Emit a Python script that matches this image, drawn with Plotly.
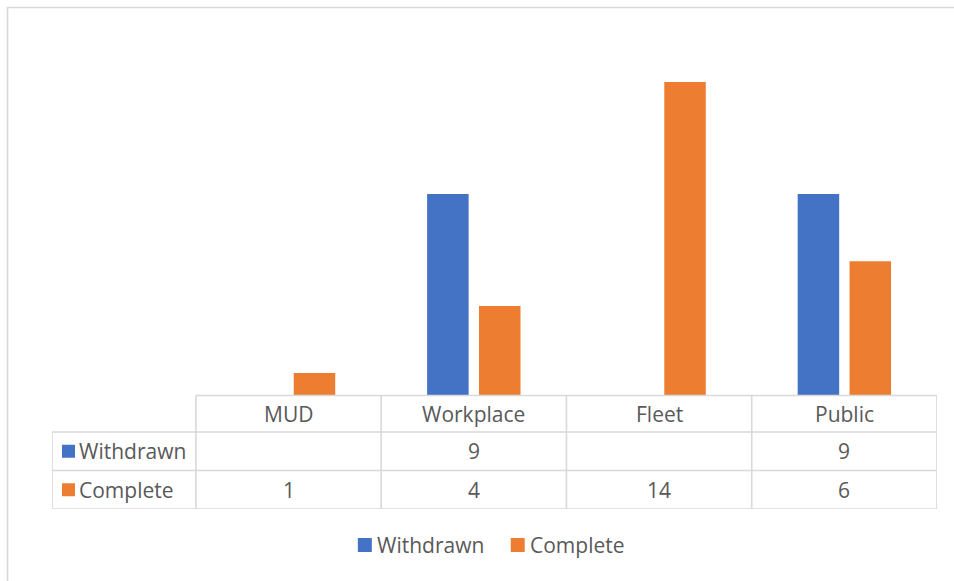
import plotly.graph_objects as go

# Chart data
categories = ["MUD", "Workplace", "Fleet", "Public"]
series_names = ["Withdrawn", "Complete"]
withdrawn = [None, 9, None, 9]
complete = [1, 4, 14, 6]
series_values = [withdrawn, complete]
series_colors = ["#4472C4", "#ED7D31"]

# Geometry (category units on x, value units on y)
W, H = 954, 581
PX_PER_CAT = 185.4          # pixels per category on x
PX_PER_VAL = 22.39          # pixels per unit on y
LABEL_COL = 144 / PX_PER_CAT  # width of the row-label column in category units
HEADER_H = 36.5 / PX_PER_VAL
ROW_H = 38.5 / PX_PER_VAL
x_left = -0.5 - LABEL_COL
x_right = len(categories) - 0.5
y_bottom = -(HEADER_H + 2 * ROW_H)
margin_t, margin_b = 30, 72
plot_h = H - margin_t - margin_b
y_top = y_bottom + plot_h / PX_PER_VAL

GRID = "#D9D9D9"
TEXT = "#595959"
FONT = "Open Sans"
FS = 21

fig = go.Figure()
x_idx = list(range(len(categories)))
for name, vals, col in zip(series_names, series_values, series_colors):
    fig.add_trace(go.Bar(
        x=x_idx, y=vals, name=name,
        marker=dict(color=col, line=dict(width=0)),
        hoverinfo="skip", showlegend=False,
    ))

shapes = []
annotations = []
line = dict(color=GRID, width=1.6)

# Data table grid
shapes.append(dict(type="line", xref="x", yref="y", x0=-0.5, x1=x_right, y0=0, y1=0, line=line))
for k in range(1, 4):
    yy = -HEADER_H - (k - 1) * ROW_H
    shapes.append(dict(type="line", xref="x", yref="y", x0=x_left, x1=x_right, y0=yy, y1=yy, line=line))
for i in range(len(categories) + 1):
    xx = -0.5 + i
    shapes.append(dict(type="line", xref="x", yref="y", x0=xx, x1=xx, y0=0, y1=y_bottom, line=line))
shapes.append(dict(type="line", xref="x", yref="y", x0=x_left, x1=x_left, y0=-HEADER_H, y1=y_bottom, line=line))

# Category headers
for i, c in enumerate(categories):
    annotations.append(dict(x=i, y=-HEADER_H / 2, xref="x", yref="y", text=c,
                            showarrow=False, font=dict(family=FONT, size=FS, color=TEXT)))

# Rows: legend key, series name and values
key_w = 13 / PX_PER_CAT
key_h = 13 / PX_PER_VAL
key_x0 = x_left + 10 / PX_PER_CAT
for r, (name, vals, col) in enumerate(zip(series_names, series_values, series_colors)):
    yc = -HEADER_H - (r + 0.5) * ROW_H
    shapes.append(dict(type="rect", xref="x", yref="y", x0=key_x0, x1=key_x0 + key_w,
                       y0=yc - key_h / 2, y1=yc + key_h / 2, fillcolor=col, line=dict(width=0)))
    annotations.append(dict(x=key_x0 + key_w + 2 / PX_PER_CAT, y=yc, xref="x", yref="y", text=name,
                            xanchor="left", showarrow=False,
                            font=dict(family=FONT, size=FS, color=TEXT)))
    for i, v in enumerate(vals):
        if v is not None:
            annotations.append(dict(x=i, y=yc, xref="x", yref="y", text=str(v),
                                    showarrow=False, font=dict(family=FONT, size=FS, color=TEXT)))

# Pixel -> paper helpers for the frame and the legend
margin_l, margin_r = 52, 16.5
plot_w = W - margin_l - margin_r
def px_x(p):
    return (p - margin_l) / plot_w
def px_y(p):
    return (H - margin_b - p) / plot_h

# Chart frame
shapes.append(dict(type="rect", xref="paper", yref="paper",
                   x0=px_x(7.5), x1=px_x(W + 5), y0=px_y(7.5), y1=px_y(H + 5),
                   line=dict(color=GRID, width=1.6), layer="below"))

# Bottom legend
legend_keys_x = [358, 511]
legend_y = 545
for name, col, kx in zip(series_names, series_colors, legend_keys_x):
    shapes.append(dict(type="rect", xref="paper", yref="paper",
                       x0=px_x(kx), x1=px_x(kx + 14), y0=px_y(legend_y + 7), y1=px_y(legend_y - 7),
                       fillcolor=col, line=dict(width=0)))
    annotations.append(dict(x=px_x(kx + 17), y=px_y(legend_y), xref="paper", yref="paper",
                            text=name, xanchor="left", yanchor="middle", showarrow=False,
                            font=dict(family=FONT, size=FS, color=TEXT)))

fig.update_layout(
    width=W, height=H,
    margin=dict(l=margin_l, r=margin_r, t=margin_t, b=margin_b),
    paper_bgcolor="white", plot_bgcolor="white",
    barmode="group", bargap=0.44, bargroupgap=0.2,
    xaxis=dict(range=[x_left, x_right], visible=False, fixedrange=True),
    yaxis=dict(range=[y_bottom, y_top], visible=False, fixedrange=True),
    shapes=shapes, annotations=annotations,
    showlegend=False,
    font=dict(family=FONT, color=TEXT),
)

fig.write_html("out.html")
